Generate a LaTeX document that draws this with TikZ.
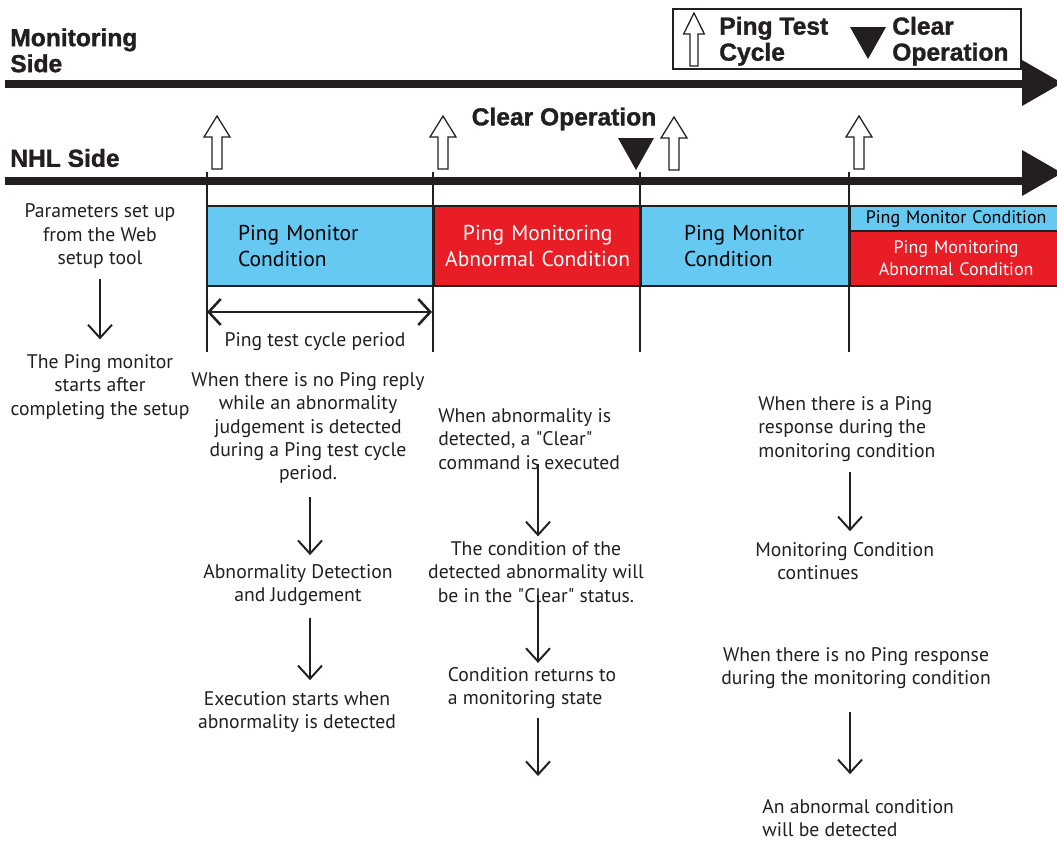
\documentclass[tikz,border=0pt]{standalone}
\usepackage{fontspec}
\setmainfont{PT Sans}
\newfontfamily\headfont{Liberation Sans}[BoldFeatures={FakeBold=1.3}]
\usetikzlibrary{arrows.meta,positioning}

\definecolor{condblue}{HTML}{66C9F1}
\definecolor{condred}{HTML}{E81D25}
\definecolor{inkgray}{HTML}{231F20}

\begin{document}
\begin{tikzpicture}[x=0.025cm, y=-0.025cm,
    head/.style={font=\headfont\bfseries\fontsize{17.5}{18.5}\selectfont, inner sep=0pt, align=left, text=inkgray},
    note/.style={font=\fontsize{14}{16.7}\selectfont, inner sep=0pt, align=center, text=inkgray},
    boxtext/.style={font=\fontsize{15.3}{18.4}\selectfont},
    smalltext/.style={font=\fontsize{12.8}{15.6}\selectfont},
    condbox/.style={draw=inkgray, line width=1.6pt, rectangle, anchor=north west, inner ysep=0pt},
    axis/.style={line width=5.5pt, draw=inkgray},
    tick/.style={line width=2pt, draw=inkgray},
    flow/.style={line width=1.4pt, draw=inkgray, -{Straight Barb[length=0.33cm,width=0.6cm]}},
    span/.style={line width=1.8pt, draw=inkgray, {Straight Barb[length=0.3cm,width=0.65cm]}-{Straight Barb[length=0.3cm,width=0.65cm]}},
    pingup/.pic={\draw[fill=white, draw=inkgray, line width=0.9pt] (-5,53) -- (-5,21) -- (-13,21) -- (0,0) -- (13,21) -- (5,21) -- (5,53) -- cycle;},
    cleardown/.pic={\fill[inkgray] (-18,0) -- (18,0) -- (0,32) -- cycle;}]
    \useasboundingbox (0,0) rectangle (1057,844);
    % Side titles
    \node[head, anchor=north west] (monside) at (10,28) {Monitoring\\Side};
    \node[head, anchor=west] (nhlside) at (10,158) {NHL Side};
    % Legend
    \node[draw=inkgray, line width=1.2pt, minimum width=8.7cm, minimum height=1.5cm, anchor=north west] (legend) at (672,8) {};
    \pic[xscale=0.8] at (694,13) {pingup};
    \node[head, anchor=north west] (legping) at (719,16.5) {Ping Test\\Cycle};
    \pic at (868,27) {cleardown};
    \node[head, anchor=north west] (legclear) at (892,16.5) {Clear\\Operation};
    % Time axes
    \coordinate (monstart) at (5,84);
    \coordinate (monend) at (1025,84);
    \draw[axis] (monstart) -- (monend);
    \fill[inkgray] (1022,60) -- (1062,83) -- (1022,106) -- cycle;
    \coordinate (nhlstart) at (5,181);
    \coordinate (nhlend) at (1025,181);
    \draw[axis] (nhlstart) -- (nhlend);
    \fill[inkgray] (1022,150) -- (1062,173) -- (1022,196) -- cycle;
    % Ping test cycles and clear operation
    \pic at (217,116) {pingup};
    \pic at (443,116) {pingup};
    \pic at (674,117) {pingup};
    \pic at (859,116) {pingup};
    \node[head, anchor=center] (cleartitle) at (564,119) {Clear Operation};
    \pic at (636,138) {cleardown};
    % Condition boxes
    \node[condbox, fill=condblue, boxtext, text width=4.125cm, inner xsep=0.775cm, minimum height=2cm, align=left] (mon1) at (206,205) {Ping Monitor\\Condition};
    \node[condbox, fill=condred, boxtext, text=white, text width=5.175cm, inner xsep=0pt, minimum height=2cm, align=center] (abn1) at (433,205) {Ping Monitoring\\Abnormal Condition};
    \node[condbox, fill=condblue, boxtext, text width=4.1cm, inner xsep=1.075cm, minimum height=2cm, align=left] (mon2) at (640,205) {Ping Monitor\\Condition};
    \node[condbox, fill=condblue, smalltext, text width=5.3cm, inner xsep=0pt, minimum height=0.625cm, align=center] (mon3) at (849,205) {Ping Monitor Condition};
    \node[condbox, fill=condred, smalltext, text=white, text width=5.3cm, inner xsep=0pt, minimum height=1.375cm, align=center] (abn2) at (849,230) {Ping Monitoring\\Abnormal Condition};
    % Cycle ticks
    \foreach \t in {207,433,640,849}
        \draw[tick] (\t,172) -- (\t,352);
    \coordinate (cycleL) at (207,312);
    \coordinate (cycleR) at (432,312);
    \draw[span] (cycleL) -- (cycleR);
    \node[note] (cycletext) at (315,342) {Ping test cycle period};
    % Column: setup
    \node[note] (setup) at (100,236) {Parameters set up\\from the Web\\setup tool};
    \node[note] (start) at (100,387) {The Ping monitor\\starts after\\completing the setup};
    \draw[flow, shorten <=0.25cm, shorten >=0.37cm] (setup) -- (start);
    % Column: abnormality detection
    \coordinate (colB) at (310,0);
    \node[note] (noreply) at (308,428) {When there is no Ping reply\\while an abnormality\\judgement is detected\\during a Ping test cycle\\period.};
    \node[note] (detect) at (298,585) {Abnormality Detection\\and Judgement};
    \node[note] (execute) at (297,712) {Execution starts when\\abnormality is detected};
    \draw[flow, shorten <=0.32cm, shorten >=0.22cm] (noreply.south -| colB) -- (detect.north -| colB);
    \draw[flow, shorten <=0.3cm, shorten >=0.27cm] (detect.south -| colB) -- (execute.north -| colB);
    % Column: clear operation
    \coordinate (colC) at (538,0);
    \node[note, align=left, anchor=north west] (clearcmd) at (438,408) {When abnormality is\\detected, a \textquotedbl Clear\textquotedbl\\command is executed};
    \node[note] (condclear) at (536,572) {The condition of the\\detected abnormality will\\be in the \textquotedbl Clear\textquotedbl\ status.};
    \node[note, align=left] (returns) at (532,688) {Condition returns to\\a monitoring state};
    \coordinate (returnsend) at (538,776);
    \draw[flow, shorten <=-0.15cm, shorten >=0.12cm] (clearcmd.south -| colC) -- (condclear.north -| colC);
    \draw[flow, shorten <=-0.2cm, shorten >=0.1cm] (condclear.south -| colC) -- (returns.north -| colC);
    \draw[flow, shorten <=0.22cm] (returns.south -| colC) -- (returnsend);
    % Column: monitoring continues
    \coordinate (colD) at (850,0);
    \node[note, align=left, anchor=north west] (pingresp) at (758,396) {When there is a Ping\\response during the\\monitoring condition};
    \node[note, align=left, anchor=north west] (continues) at (755,542) {Monitoring Condition\\\hspace*{0.55cm}continues};
    \node[note] (noresp) at (856,668) {When there is no Ping response\\during the monitoring condition};
    \node[note, align=left, anchor=north west] (abnormal) at (762,799) {An abnormal condition\\will be detected};
    \draw[flow, shorten <=0.27cm, shorten >=0.27cm] (pingresp.south -| colD) -- (continues.north -| colD);
    \draw[flow, shorten <=0.57cm, shorten >=0.62cm] (noresp.south -| colD) -- (abnormal.north -| colD);
\end{tikzpicture}
\end{document}
